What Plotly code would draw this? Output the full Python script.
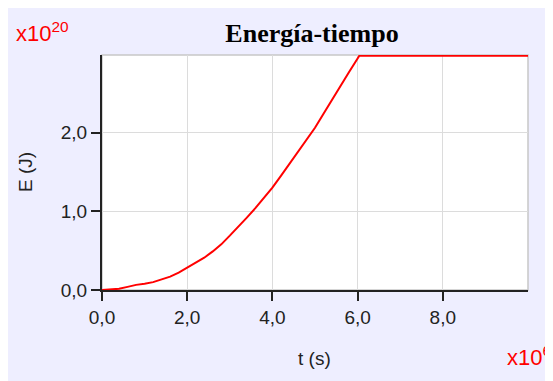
import plotly.graph_objects as go

# Data (t in 1e6 s, E in 1e20 J)
t_vals = [0.0, 0.2, 0.4, 0.6, 0.8, 1.0, 1.2, 1.4, 1.6, 1.8, 2.0, 2.2, 2.4, 2.6, 2.8, 3.0,
          3.2, 3.4, 3.6, 3.8, 4.0, 4.2, 4.4, 4.6, 4.8, 5.0, 5.2, 5.4, 5.6, 5.8, 6.0, 6.04, 10.0]
e_vals = [0.0, 0.005, 0.015, 0.04, 0.065, 0.08, 0.10, 0.135, 0.17, 0.22, 0.28, 0.34, 0.41, 0.49, 0.58, 0.69,
          0.80, 0.92, 1.04, 1.17, 1.30, 1.45, 1.60, 1.75, 1.90, 2.06, 2.24, 2.42, 2.60, 2.77, 2.94, 2.975, 2.975]

x_ticks = [0, 2, 4, 6, 8]
y_ticks = [0, 1, 2]

title_text = "Energía-tiempo"
x_label = "t (s)"
y_label = "E (J)"
x_exp = "x10<sup>6</sup>"
y_exp = "x10<sup>20</sup>"

# page has an 8px body margin; the figure fills the rest of the 553x381 window
W, H = 545, 373
L, R, T, B = 94, 25, 47, 91
PW, PH = W - L - R, H - T - B

def px(xp):
    return (xp - L) / PW

def py(yp):
    return (H - B - yp) / PH

BG = "#EEEEFF"
TXT = "#222222"
SANS = "Liberation Sans, Arial, sans-serif"

fig = go.Figure()
fig.add_trace(go.Scatter(x=t_vals, y=e_vals, mode="lines",
                         line=dict(color="#FF0000", width=2),
                         hoverinfo="skip", showlegend=False))

axis_common = dict(showline=True, linecolor=TXT, linewidth=2,
                   ticks="outside", ticklen=9, tickwidth=1.5, tickcolor=TXT,
                   showgrid=True, gridcolor="#DCDCDC", gridwidth=1,
                   zeroline=False, tickformat=".1f",
                   tickfont=dict(family=SANS, size=19, color=TXT))

fig.update_xaxes(range=[0, 10], tickvals=x_ticks, **axis_common)
fig.update_yaxes(range=[0, 2.985], tickvals=y_ticks, **axis_common)

shapes = [
    dict(type="rect", xref="paper", yref="paper", x0=0, x1=1, y0=0, y1=1,
         line=dict(color="#C8C8C8", width=1.5), fillcolor="rgba(0,0,0,0)", layer="below"),
]

annotations = [
    dict(text=y_label, xref="paper", yref="paper", x=px(17), y=py(164), textangle=-90,
         showarrow=False, xanchor="center", yanchor="middle",
         font=dict(family=SANS, size=19, color=TXT)),
    dict(text=x_label, xref="paper", yref="paper", x=px(306), y=py(350),
         showarrow=False, xanchor="center", yanchor="middle",
         font=dict(family=SANS, size=19, color=TXT)),
    dict(text=y_exp, xref="paper", yref="paper", x=px(6), y=py(24),
         showarrow=False, xanchor="left", yanchor="middle",
         font=dict(family=SANS, size=22, color="#FF0000")),
    dict(text=x_exp, xref="paper", yref="paper", x=px(497), y=py(348),
         showarrow=False, xanchor="left", yanchor="middle",
         font=dict(family=SANS, size=22, color="#FF0000")),
]

fig.update_layout(
    width=W, height=H,
    margin=dict(l=L, r=R, t=T, b=B, pad=0),
    paper_bgcolor=BG, plot_bgcolor="white",
    title=dict(text="<b>" + title_text + "</b>", x=304 / W, xanchor="center",
               y=1 - 25 / H, yanchor="middle", yref="container", xref="container",
               font=dict(family="Liberation Serif, Times New Roman, serif", size=26, color="black")),
    shapes=shapes, annotations=annotations,
    separators=",.",
)

fig.write_html("out.html")
